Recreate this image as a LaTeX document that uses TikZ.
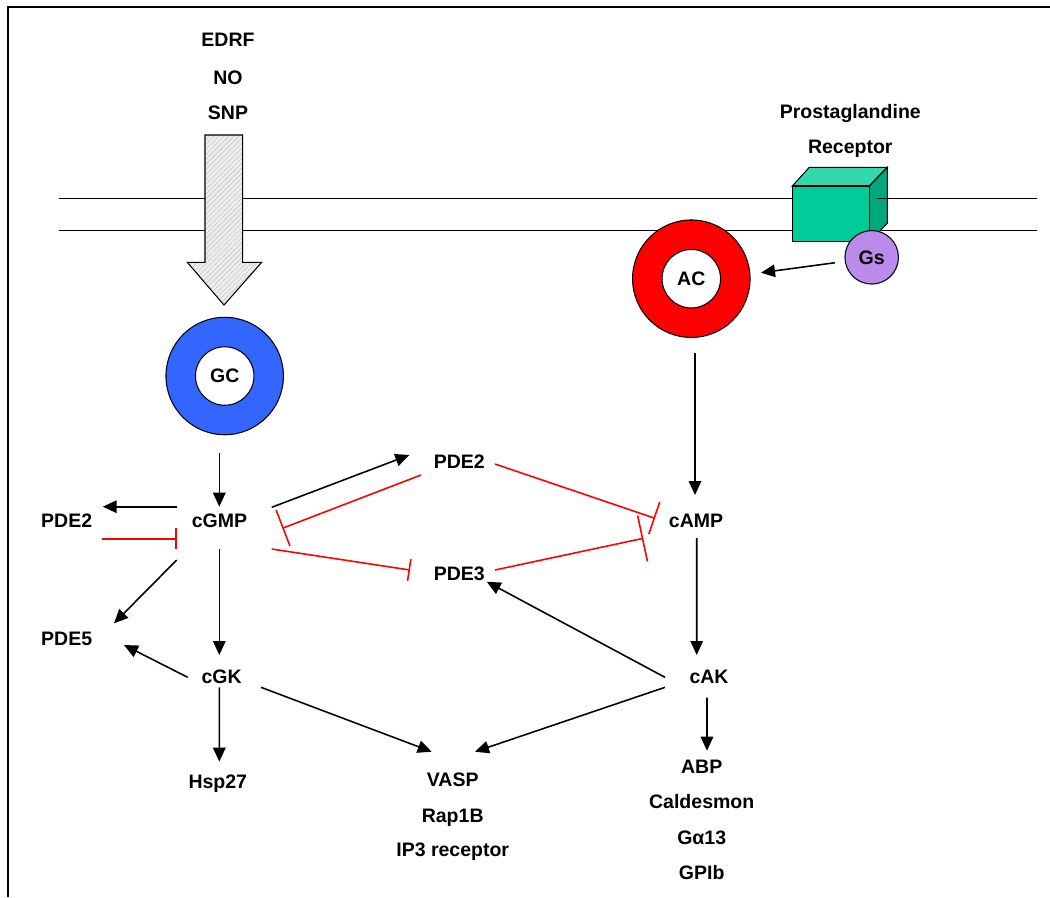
\documentclass[tikz,border=0pt]{standalone}
\usepackage{fontspec}
\setmainfont{Liberation Sans}
\usetikzlibrary{arrows.meta,patterns.meta}
\definecolor{gcblue}{HTML}{3366FF}
\definecolor{acred}{HTML}{FF0000}
\definecolor{gspurple}{HTML}{BB8BEB}
\definecolor{cubefront}{HTML}{00CC99}
\definecolor{cubetop}{HTML}{33D9AC}
\definecolor{cubeside}{HTML}{00A67D}
\tikzset{
  inh/.style={red, -{Bar[width=#1]}},
  inh/.default=0.42cm
}
\begin{document}
\begin{tikzpicture}[x=0.02cm, y=-0.02cm, line width=0.9pt,
  lbl/.style={font=\bfseries\fontsize{11.1}{13}\selectfont, inner sep=0pt, text height=7.9pt, text depth=0pt},
  act/.style={-{Triangle[length=0.28cm,width=0.25cm]}},
  ring/.style={circle, draw, line width=0.6pt, minimum size=2.35cm, inner sep=0pt},
  hole/.style={lbl, circle, draw, line width=0.6pt, fill=white, minimum size=1.17cm}]
  \useasboundingbox (0,0) rectangle (1050,897);
  % 테두리
  \draw[line width=1.2pt] (1050,7.3) -- (8.3,7.3) -- (8.3,897);
  % 세포막
  \draw[line width=0.8pt] (59.3,198.5) -- (1036.7,198.5);
  \draw[line width=0.8pt] (59.3,230.5) -- (1036.7,230.5);
  % NO 공여체
  \node[lbl] (edrf) at (228,40) {EDRF};
  \node[lbl] (no) at (228,78) {NO};
  \node[lbl] (snp) at (228,113) {SNP};
  \draw[line width=0.6pt, preaction={fill=gray!14}, pattern={Lines[angle=45,distance=2pt,line width=0.25pt]}, pattern color=gray!50]
    (205,135) -- (242.7,135) -- (242.7,262.3) -- (261.7,262.3) -- (224,305) -- (187.3,262.3) -- (205,262.3) -- cycle;
  % 수용체(상자)
  \node[lbl] (pg) at (850.3,112) {Prostaglandine};
  \node[lbl] (rec) at (850.3,147) {Receptor};
  \filldraw[fill=cubetop, line width=0.6pt] (792.3,186) -- (809.3,167.3) -- (887.3,167.3) -- (869.3,186) -- cycle;
  \filldraw[fill=cubeside, line width=0.6pt] (869.3,186) -- (887.3,167.3) -- (887.3,223.3) -- (869.3,241.7) -- cycle;
  \filldraw[fill=cubefront, line width=0.6pt] (792.3,186) rectangle (869.3,241.7);
  \draw[line width=0.8pt] (876.7,198.5) -- (887.3,198.5);
  \node[lbl, circle, draw, line width=0.6pt, fill=gspurple, minimum size=1.07cm] (gs) at (871.7,257.3) {Gs};
  % 고리 모양 효소
  \node[ring, fill=gcblue] (gc) at (224.7,376) {};
  \node[hole] (gcin) at (gc) {GC};
  \node[ring, fill=acred] (ac) at (691.3,278.7) {};
  \node[hole] (acin) at (ac) {AC};
  % 분자 이름
  \node[lbl] (pdeb) at (459.3,462) {PDE2};
  \node[lbl] (cgmp) at (219.5,520.5) {cGMP};
  \node[lbl] (camp) at (696,521) {cAMP};
  \node[lbl] (pdea) at (66.7,521) {PDE2};
  \node[lbl] (pdec) at (459.3,573.7) {PDE3};
  \node[lbl] (pdee) at (66.7,638.7) {PDE5};
  \node[lbl] (cgk) at (221.7,676.7) {cGK};
  \node[lbl] (cak) at (709,676.5) {cAK};
  \node[lbl] (hsp) at (217.8,781.7) {Hsp27};
  \node[lbl] (vasp) at (452.7,780) {VASP};
  \node[lbl] (rap) at (452.7,815.3) {Rap1B};
  \node[lbl] (ip3) at (452.7,850) {IP3 receptor};
  \node[lbl] (abp) at (701.7,766.3) {ABP};
  \node[lbl] (cald) at (701.7,801.7) {Caldesmon};
  \node[lbl] (ga) at (701.7,838) {Gα13};
  \node[lbl] (gpib) at (701.7,872.5) {GPIb};
  % 활성화
  \draw[act] ([shift={(-36.7,5.4)}]gs.center) -- ([shift={(69.7,-6)}]ac.center);
  \draw[act] ([shift={(-5.4,77.3)}]gc.center) -- ([shift={(-0.2,-13.8)}]cgmp.center);
  \draw[act] ([shift={(3.7,74.3)}]ac.center) -- ([shift={(-1,-26)}]camp.center);
  \draw[act] ([shift={(-42.8,-13.8)}]cgmp.center) -- ([shift={(36,-14.3)}]pdea.center);
  \draw[act] ([shift={(-42.8,39.5)}]cgmp.center) -- ([shift={(47.3,-15.4)}]pdee.center);
  \draw[act] ([shift={(-0.2,28.5)}]cgmp.center) -- ([shift={(-2.4,-21.7)}]cgk.center);
  \draw[act] ([shift={(52.2,-13.2)}]cgmp.center) -- ([shift={(-50,-7)}]pdeb.center);
  \draw[act] ([shift={(-34,0.6)}]cgk.center) -- ([shift={(57.3,6.3)}]pdee.center);
  \draw[act] ([shift={(-2.4,10.6)}]cgk.center) -- ([shift={(1.5,-20)}]hsp.center);
  \draw[act] ([shift={(39.3,10.6)}]cgk.center) -- ([shift={(-21,-28.3)}]vasp.center);
  \draw[act] ([shift={(0.7,17)}]camp.center) -- ([shift={(-12.3,-21.5)}]cak.center);
  \draw[act] ([shift={(-44,10.8)}]cak.center) -- ([shift={(22.3,-28.3)}]vasp.center);
  \draw[act] ([shift={(-44,0.8)}]cak.center) -- ([shift={(27.4,8)}]pdec.center);
  \draw[act] ([shift={(-2,21.2)}]cak.center) -- ([shift={(5.3,-15.6)}]abp.center);
  % 억제
  \draw[inh] ([shift={(35.3,17.7)}]pdea.center) -- ([shift={(-42.8,18.2)}]cgmp.center);
  \draw[inh=0.77cm] ([shift={(-38.3,13)}]pdeb.center) -- ([shift={(62.8,7.8)}]cgmp.center);
  \draw[inh=0.44cm] ([shift={(52.2,28.5)}]cgmp.center) -- ([shift={(-49.3,-3.7)}]pdec.center);
  \draw[inh=0.68cm] ([shift={(35.7,2)}]pdeb.center) -- ([shift={(-41,-2.7)}]camp.center);
  \draw[inh=0.94cm] ([shift={(35.7,-3.7)}]pdec.center) -- ([shift={(-52.7,17.3)}]camp.center);
\end{tikzpicture}
\end{document}
